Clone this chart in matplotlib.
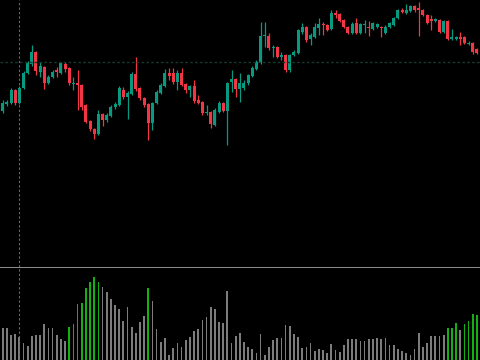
import matplotlib
matplotlib.use("Agg")
import matplotlib.pyplot as plt
import numpy as np

# candle data (arbitrary price units)
opens = [159, 166, 167, 180, 167, 182, 197, 206, 218, 198, 203, 187, 193, 200, 197, 206, 202, 186, 187, 185,
         165, 149, 141, 136, 156, 150, 154, 163, 165, 180, 173, 176, 196, 182, 172, 166, 147, 167, 177, 184,
         197, 197, 188, 197, 186, 180, 184, 170, 168, 157, 158, 145, 158, 167, 159, 188, 191, 181, 182, 187,
         194, 201, 207, 234, 234, 222, 223, 213, 215, 200, 215, 217, 238, 243, 231, 233, 242, 246, 245, 241,
         257, 256, 250, 243, 237, 247, 237, 245, 243, 241, 243, 243, 237, 243, 245, 252, 260, 257, 259, 264,
         262, 260, 255, 251, 249, 250, 238, 249, 231, 231, 233, 233, 226, 227, 221, 219]
highs = [170, 170, 182, 181, 184, 199, 209, 225, 219, 208, 204, 195, 200, 203, 208, 208, 203, 193, 200, 186,
         166, 150, 142, 160, 157, 157, 165, 168, 184, 183, 179, 198, 213, 183, 173, 167, 168, 180, 187, 201,
         202, 202, 200, 202, 187, 185, 190, 175, 169, 165, 159, 162, 169, 168, 188, 200, 192, 197, 190, 196,
         204, 210, 248, 248, 237, 225, 224, 218, 216, 216, 220, 241, 247, 244, 237, 247, 252, 248, 246, 260,
         260, 257, 251, 244, 248, 252, 247, 250, 249, 248, 247, 244, 245, 248, 253, 261, 262, 266, 265, 265,
         268, 261, 256, 255, 252, 251, 250, 250, 241, 234, 238, 234, 229, 228, 222, 222]
lows = [157, 164, 166, 165, 166, 181, 196, 204, 195, 193, 181, 186, 192, 193, 196, 198, 185, 180, 160, 160,
        147, 139, 131, 135, 144, 148, 153, 161, 164, 171, 151, 175, 179, 170, 163, 130, 140, 166, 176, 183,
        190, 186, 180, 184, 177, 173, 167, 166, 155, 155, 142, 144, 157, 158, 125, 178, 173, 168, 180, 185,
        193, 200, 206, 223, 220, 213, 212, 210, 198, 198, 214, 216, 236, 228, 225, 232, 235, 235, 239, 240,
        252, 248, 242, 236, 236, 236, 236, 237, 234, 240, 242, 233, 236, 242, 244, 251, 257, 256, 258, 258,
        234, 254, 246, 240, 248, 237, 237, 230, 230, 230, 225, 226, 225, 216, 216, 218]
closes = [167, 168, 180, 167, 182, 197, 207, 218, 199, 204, 187, 193, 198, 198, 207, 201, 187, 187, 185, 163,
          148, 141, 136, 156, 150, 155, 163, 166, 182, 173, 177, 196, 181, 172, 165, 147, 167, 178, 185, 197,
          194, 188, 197, 185, 180, 184, 169, 167, 157, 158, 146, 160, 167, 159, 187, 191, 181, 187, 187, 195,
          202, 208, 234, 235, 222, 223, 213, 215, 200, 215, 218, 240, 243, 230, 235, 243, 246, 245, 240, 257,
          255, 249, 243, 237, 246, 237, 246, 246, 242, 247, 246, 242, 243, 247, 252, 260, 258, 260, 264, 260,
          260, 255, 247, 249, 251, 238, 249, 231, 233, 233, 231, 227, 227, 218, 217, 221]

volumes = [32, 32, 25, 26, 23, 17, 14, 24, 25, 25, 36, 32, 32, 25, 21, 19, 33, 36, 56, 57,
           72, 78, 83, 78, 73, 68, 61, 55, 51, 39, 53, 33, 27, 38, 44, 72, 59, 31, 18, 22,
           5, 12, 17, 13, 20, 23, 29, 31, 40, 43, 53, 51, 38, 37, 69, 17, 24, 27, 18, 13,
           11, 7, 26, 5, 13, 20, 22, 22, 35, 34, 26, 23, 12, 13, 17, 9, 11, 10, 7, 16,
           10, 8, 15, 21, 21, 21, 19, 19, 21, 21, 22, 21, 22, 15, 15, 11, 9, 7, 5, 11,
           27, 13, 17, 24, 24, 24, 25, 32, 32, 37, 30, 36, 39, 46, 45, 43]
# bars drawn in green on the volume pane
high_volume = [16, 17, 18, 19, 20, 21, 22, 23, 35, 107, 108, 109, 111, 112, 113, 114, 115]

level = 208      # horizontal dotted level
cursor_bar = 4   # vertical dotted crosshair

UP = "#089981"
DOWN = "#f23645"

n = len(opens)
idx = np.arange(n)
o = np.array(opens)
c = np.array(closes)
up = c >= o
colors = np.where(up, UP, DOWN)

fig = plt.figure(figsize=(4.8, 3.6), dpi=100, facecolor="black")
ax = fig.add_axes([0, 93 / 360, 1, 267 / 360], facecolor="black")
axv = fig.add_axes([0, 0, 1, 93 / 360], facecolor="black")

xmin = -0.65
xmax = xmin + 480 / 4.16

# candles
ax.vlines(idx, lows, highs, colors=colors, linewidth=0.9)
body = np.maximum(np.abs(c - o), 0.8)
ax.bar(idx, body, bottom=np.minimum(o, c), width=0.72, color=colors, linewidth=0)
ax.axhline(level, color="#17372a", linewidth=1, linestyle=(0, (2, 1.5)))
ax.axvline(cursor_bar, color="#6a6a6a", linewidth=0.8, linestyle=(0, (2, 2)))
ax.set_xlim(xmin, xmax)
ax.set_ylim(3, 270)

# volume
vcol = ["#12b012" if i in high_volume else "#7c7c7c" for i in range(n)]
axv.bar(idx, volumes, width=0.42, color=vcol, linewidth=0)
axv.axvline(cursor_bar, color="#6a6a6a", linewidth=0.8, linestyle=(0, (2, 2)))
axv.axhline(93, color="#a8a8a8", linewidth=1.2)
axv.set_xlim(xmin, xmax)
axv.set_ylim(0, 93.5)

for a in (ax, axv):
    a.set_xticks([])
    a.set_yticks([])
    for s in a.spines.values():
        s.set_visible(False)

fig.savefig("out.png", dpi=100, facecolor="black")
